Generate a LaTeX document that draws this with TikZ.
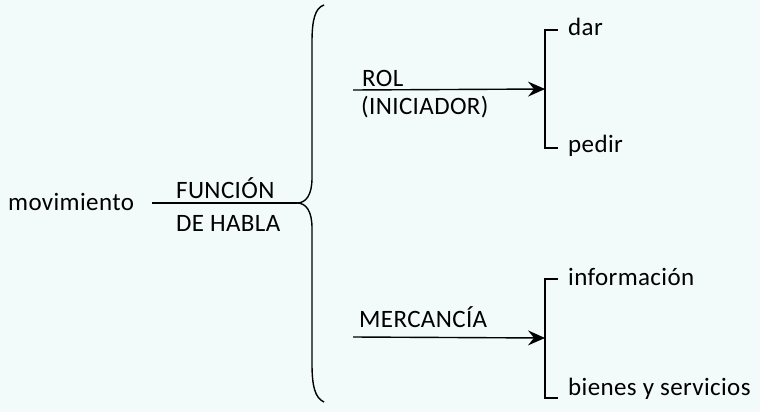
\documentclass[tikz,border=0pt]{standalone}
\usepackage{fontspec}
\setmainfont{Carlito}[LetterSpace=1.5]
\usetikzlibrary{arrows.meta}
\definecolor{bgc}{RGB}{242,250,250}
\tikzset{
  lbl/.style={inner sep=0pt, anchor=base west, font=\fontsize{25}{29}\selectfont, text=black},
  ln/.style={line width=1.4pt, black},
  arr/.style={ln, -{Stealth[length=17pt, width=15pt, inset=6pt]}},
}
\begin{document}
\begin{tikzpicture}[x=1pt, y=-1pt]
\fill[bgc] (0,0) rectangle (760,412);
\useasboundingbox (0,0) rectangle (760,412);
% texts
\node[lbl] (mov) at (8,210) {movimiento};
\node[lbl] (fun) at (176,198) {FUNCIÓN};
\node[lbl] (hab) at (176,231) {DE HABLA};
\node[lbl] (rol) at (362,86) {ROL};
\node[lbl] (ini) at (361,114) {(INICIADOR)};
\node[lbl] (mer) at (359,327) {MERCANCÍA};
\node[lbl] (dar) at (568,36) {dar};
\node[lbl] (ped) at (568,152) {pedir};
\node[lbl] (inf) at (568,285) {información};
\node[lbl] (bie) at (568,395) {bienes y servicios};
% key points
\coordinate (l0) at (152,203);
\coordinate (tip) at (297,203);
\coordinate (a1s) at (353,90);
\coordinate (b1) at (545,89);
\coordinate (a2s) at (353,337);
\coordinate (b2) at (545,338);
% main line and brace
\draw[ln] (l0) -- (tip);
\draw[ln] (324,5) .. controls (315,8) and (312,20) .. (312,42) -- (312,178)
  .. controls (312,195) and (306,203) .. (tip)
  .. controls (306,203) and (312,211) .. (312,228) -- (312,364)
  .. controls (312,386) and (315,398) .. (324,402);
% arrows
\draw[arr] (a1s) -- (b1);
\draw[arr] (a2s) -- (b2);
% brackets
\draw[ln] (558,30) -- (545,30) -- (545,148) -- (558,148);
\draw[ln] (558,279) -- (545,279) -- (545,398) -- (558,398);
\end{tikzpicture}
\end{document}
